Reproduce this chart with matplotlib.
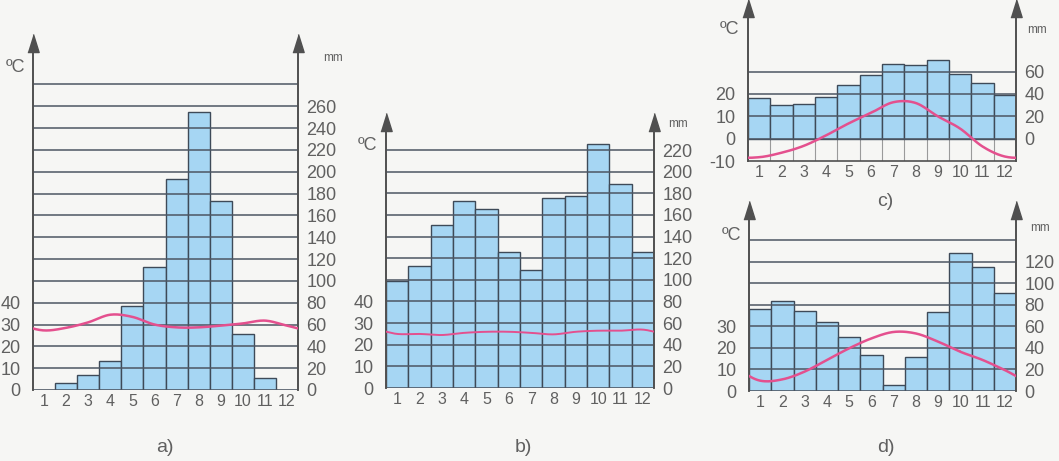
import matplotlib
matplotlib.use("Agg")
import matplotlib.pyplot as plt
import numpy as np

plt.rcParams["font.family"] = ["Liberation Sans", "DejaVu Sans"]
plt.rcParams["axes.unicode_minus"] = False

months = list(range(1, 13))
month_labels = [str(m) for m in months]

# rainfall (mm) and temperature (degC)
rain_a = [0, 6, 14, 27, 77, 113, 193, 255, 173, 51, 11, 0]
temp_a = [27.3, 28.5, 31.0, 34.5, 33.5, 30.0, 28.7, 28.7, 29.5, 30.5, 31.8, 29.5]
rain_b = [99, 113, 151, 173, 166, 126, 109, 176, 178, 226, 189, 126]
temp_b = [25.0, 25.0, 24.5, 25.5, 26.0, 26.0, 25.5, 24.8, 26.0, 26.5, 26.5, 27.0]
rain_c = [36, 30, 31, 37, 48, 57, 67, 66, 70, 58, 50, 39]
temp_c = [-8.3, -6.3, -3.2, 1.5, 6.8, 11.5, 16.3, 16.0, 10.0, 4.5, -3.5, -8.0]
rain_d = [76, 84, 74, 64, 50, 33, 6, 32, 73, 128, 115, 91]
temp_d = [4.8, 5.4, 9.0, 14.4, 19.8, 24.4, 27.4, 26.7, 22.9, 18.2, 14.4, 9.7]

W, H = 1059, 461
BAR = "#a6d6f3"
EDGE = "#3e4a58"
GRID = "#4d5663"
LINE = "#e4508e"
TXT = "#606060"
AX = "#505050"


def smooth(x, y):
    # periodic Catmull-Rom curve through the monthly points, for drawing only
    xs = np.concatenate([[x[0] - 2, x[0] - 1], x, [x[-1] + 1, x[-1] + 2]])
    ys = np.concatenate([y[-2:], y, y[:2]])
    px, py = [], []
    t = np.linspace(0, 1, 20)
    for i in range(1, len(xs) - 2):
        p0, p1, p2, p3 = ys[i - 1], ys[i], ys[i + 1], ys[i + 2]
        py.append(0.5 * (2 * p1 + (-p0 + p2) * t + (2 * p0 - 5 * p1 + 4 * p2 - p3) * t ** 2
                         + (-p0 + 3 * p1 - 3 * p2 + p3) * t ** 3))
        px.append(xs[i] + t * (xs[i + 1] - xs[i]))
    return np.concatenate(px), np.concatenate(py)


def fx(px):
    return px / W


def fy(py):
    return 1 - py / H


def panel(x0, x1, ytop, ybot, rain, temp, tlim, grid_top, mm_ticks, t_ticks, lw_line=1.8):
    ax_t = fig.add_axes([fx(x0), fy(ybot), (x1 - x0) / W, (ybot - ytop) / H])
    ax_m = ax_t.twinx()
    ax_t.set_zorder(ax_m.get_zorder() + 1)
    ax_t.patch.set_visible(False)
    ax_m.patch.set_visible(False)

    ax_t.set_ylim(tlim)
    ax_m.set_ylim(tlim[0] * 2, tlim[1] * 2)
    ax_t.set_xlim(0.5, 12.5)

    ax_m.bar(months, rain, width=1.0, color=BAR, edgecolor=EDGE, linewidth=1.0, zorder=2)
    for g in range(0, grid_top + 1, 20):
        ax_m.axhline(g, color=GRID, lw=1.1, zorder=3)
    if tlim[0] < 0:
        ax_m.vlines(np.arange(1.5, 12.5, 1), tlim[0] * 2, 0, color="#9a9a9a", lw=0.8, zorder=1)

    sx, sy = smooth(np.array(months, float), np.array(temp, float))
    ax_t.plot(sx, sy, color=LINE, lw=lw_line, zorder=5)

    ax_t.set_xticks(months)
    ax_t.set_xticklabels(month_labels)
    ax_t.set_yticks(t_ticks)
    ax_m.set_yticks(mm_ticks)
    ax_t.tick_params(axis="x", length=0, pad=3, labelsize=11.5, labelcolor=TXT)
    ax_t.tick_params(axis="y", length=0, pad=9, labelsize=13, labelcolor=TXT)
    ax_m.tick_params(axis="y", length=0, pad=6, labelsize=13, labelcolor=TXT)

    for a in (ax_t, ax_m):
        for s in ("top", "bottom"):
            a.spines[s].set_visible(False)
        for s in ("left", "right"):
            a.spines[s].set_color(AX)
            a.spines[s].set_linewidth(1.2)
    if tlim[0] < 0:
        ax_t.spines["bottom"].set_visible(True)
        ax_t.spines["bottom"].set_color(AX)
        ax_t.spines["bottom"].set_linewidth(1.2)

    head = [(-1, -1.6), (1, -1.6), (0, 1.6)]
    ax_t.plot([0, 1], [1, 1], transform=ax_t.transAxes, marker=head, markersize=13,
              color=AX, linestyle="none", clip_on=False, zorder=6)
    return ax_t


fig = plt.figure(figsize=(W / 100, H / 100), dpi=100)
fig.patch.set_facecolor("#f6f6f4")

panel(33, 298, 43, 390, rain_a, temp_a, (0, 159), 280, range(0, 261, 20), range(0, 41, 10))
panel(386, 654, 122, 388, rain_b, temp_b, (0, 123), 220, range(0, 221, 20), range(0, 41, 10), lw_line=1.4)
panel(748, 1016, 8, 161, rain_c, temp_c, (-10, 58.5), 60, range(0, 61, 20), range(-10, 21, 10))
panel(749, 1016, 210, 391, rain_d, temp_d, (0, 84), 140, range(0, 121, 20), range(0, 31, 10))

units = [(16, 67, 333, 58), (368, 146, 678, 124), (729, 30, 1037, 30), (731, 235, 1040, 228)]
for cx, cy, mx, my in units:
    fig.text(fx(cx), fy(cy), "ºC", fontsize=13, color=TXT, ha="center", va="center")
    fig.text(fx(mx), fy(my), "mm", fontsize=8.5, color=TXT, ha="center", va="center")

for lab, cx, cy in [("a)", 165, 447), ("b)", 523, 447), ("c)", 885, 201), ("d)", 886, 447)]:
    fig.text(fx(cx), fy(cy), lab, fontsize=14, color=TXT, ha="center", va="center")

fig.savefig("out.png", dpi=100, facecolor=fig.get_facecolor())
